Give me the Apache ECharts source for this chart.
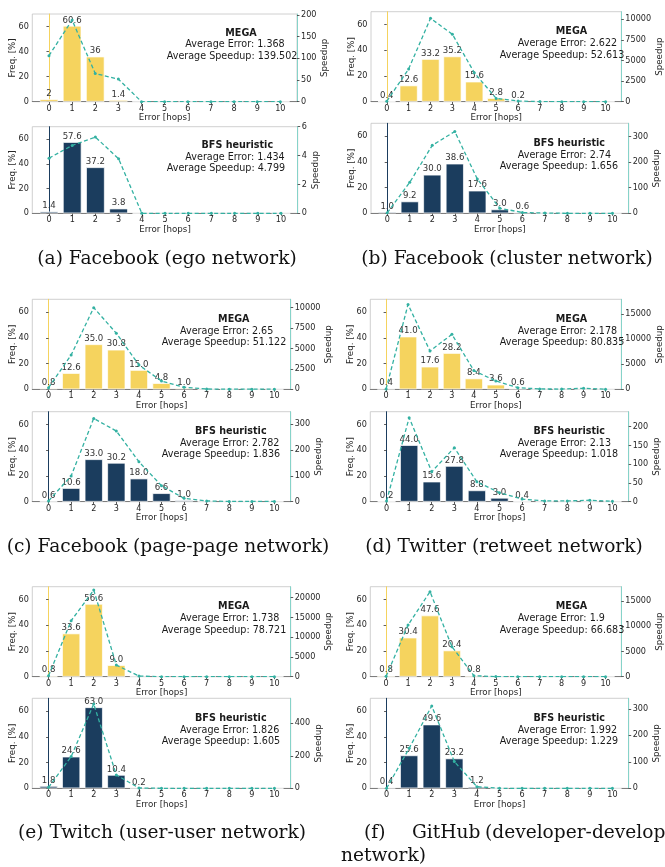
<!DOCTYPE html>
<html><head><meta charset="utf-8">
<script src="https://cdn.jsdelivr.net/npm/echarts@6/dist/echarts.min.js"></script>
<style>html,body{margin:0;padding:0;background:#fff}#c{width:665px;height:867px}</style>
</head><body><div id="c"></div>
<script>
// ---------- data ----------
const hops = [0,1,2,3,4,5,6,7,8,9,10];

const egoMegaFreq   = [2, 60.6, 36, 1.4, 0, 0, 0, 0, 0, 0, 0];
const egoMegaSpeed  = [106, 188, 65, 52, 0, 0, 0, 0, 0, 0, 0];
const egoBfsFreq    = [1.4, 57.6, 37.2, 3.8, 0, 0, 0, 0, 0, 0, 0];
const egoBfsSpeed   = [3.82, 4.7, 5.28, 3.78, 0, 0, 0, 0, 0, 0, 0];

const clusterMegaFreq  = [0.4, 12.6, 33.2, 35.2, 15.6, 2.8, 0.2, 0, 0, 0, 0];
const clusterMegaSpeed = [50, 3970, 10120, 8180, 3520, 400, 80, 10, 5, 5, 5];
const clusterBfsFreq   = [1.0, 9.2, 30.0, 38.6, 17.6, 3.0, 0.6, 0, 0, 0, 0];
const clusterBfsSpeed  = [2, 121, 266, 320, 134, 20, 3, 1, 0, 0, 0];

const pageMegaFreq  = [0.8, 12.6, 35.0, 30.8, 15.0, 4.8, 1.0, 0, 0, 0, 0];
const pageMegaSpeed = [200, 4200, 10000, 6860, 2980, 1020, 245, 40, 10, 10, 10];
const pageBfsFreq   = [0.6, 10.6, 33.0, 30.2, 18.0, 6.6, 1.0, 0, 0, 0, 0];
const pageBfsSpeed  = [3, 100, 323, 274, 155, 62, 13, 3, 1, 1, 1];

const twitterMegaFreq  = [0.4, 41.0, 17.6, 28.2, 8.4, 3.6, 0.6, 0, 0, 0, 0];
const twitterMegaSpeed = [66, 16900, 7630, 10950, 3720, 1660, 330, 66, 50, 200, 30];
const twitterBfsFreq   = [0.2, 44.0, 15.6, 27.8, 8.8, 3.0, 0.4, 0, 0, 0, 0];
const twitterBfsSpeed  = [2, 224, 80, 144, 53, 24, 7, 2, 2, 4, 1];

const twitchMegaFreq  = [0.8, 33.6, 56.6, 9.0, 0, 0, 0, 0, 0, 0, 0];
const twitchMegaSpeed = [250, 14180, 21940, 2950, 170, 0, 0, 0, 0, 0, 0];
const twitchBfsFreq   = [1.8, 24.6, 63.0, 10.4, 0.2, 0, 0, 0, 0, 0, 0];
const twitchBfsSpeed  = [6, 195, 519, 82, 2, 0, 0, 0, 0, 0, 0];

const githubMegaFreq  = [0.8, 30.4, 47.6, 20.4, 0.8, 0, 0, 0, 0, 0, 0];
const githubMegaSpeed = [66, 10240, 16850, 5950, 200, 20, 0, 0, 0, 0, 0];
const githubBfsFreq   = [0.4, 25.6, 49.6, 23.2, 1.2, 0, 0, 0, 0, 0, 0];
const githubBfsSpeed  = [0, 151, 311, 101, 6, 0, 0, 0, 0, 0, 0];

const freqTicks = [0, 20, 40, 60];
const methodNames = ['MEGA', 'BFS heuristic'];
const avgError   = ['1.368','1.434','2.622','2.74','2.65','2.782','2.178','2.13','1.738','1.826','1.9','1.992'];
const avgSpeedup = ['139.502','4.799','52.613','1.656','51.122','1.836','80.835','1.018','78.721','1.605','66.683','1.229'];
const speedTicks = [
  [0,50,100,150,200], [0,2,4,6],
  [0,2500,5000,7500,10000], [0,100,200,300],
  [0,2500,5000,7500,10000], [0,100,200,300],
  [0,5000,10000,15000], [0,50,100,150,200],
  [0,5000,10000,15000,20000], [0,200,400],
  [0,5000,10000,15000], [0,100,200,300]
];
const freqSeries  = [egoMegaFreq, egoBfsFreq, clusterMegaFreq, clusterBfsFreq, pageMegaFreq, pageBfsFreq,
                     twitterMegaFreq, twitterBfsFreq, twitchMegaFreq, twitchBfsFreq, githubMegaFreq, githubBfsFreq];
const speedSeries = [egoMegaSpeed, egoBfsSpeed, clusterMegaSpeed, clusterBfsSpeed, pageMegaSpeed, pageBfsSpeed,
                     twitterMegaSpeed, twitterBfsSpeed, twitchMegaSpeed, twitchBfsSpeed, githubMegaSpeed, githubBfsSpeed];

// ---------- layout ----------
// [left, top, right, bottom, speedMax, rightNameGap, titleCenterX, textLeftErr, textLeftSpd, yTitle, yErr, ySpd]
const L = [
  [32.3, 14,    297,   101.7, 202,   15.5, 241,   185.3, 166.7, 33.7, 44.3, 56.7],
  [32.3, 126.7, 297.7, 213.3, 6.0,   6,    237.3, 185.3, 166.7, 145.7,157.3,168.3],
  [371,  11.7,  628.7, 101.7, 10922, 22.3, 571.5, 517.7, 499.7, 31.7, 43.3, 55],
  [371,  123.3, 628.7, 213.3, 352,   12.3, 569.2, 517.7, 499.7, 143.3,155.7,166.7],
  [32.3, 299.3, 290.7, 389.3, 11020, 22,   233.8, 180,   161.7, 319.3,331.7,342.7],
  [32.3, 411.7, 290.7, 501.7, 349,   12,   230.8, 180,   161.7, 431.7,443.3,454.3],
  [370.3,299.3, 628.7, 389.3, 17920, 24.3, 571.5, 517.7, 499.7, 319.3,331.7,342.7],
  [370.3,411.7, 628.7, 501.7, 240,   12.3, 569.2, 517.7, 499.7, 431.7,443.3,454.3],
  [32.3, 586.7, 290.7, 676.7, 22785, 22,   233.8, 180,   161.7, 606.7,618.7,630],
  [32.3, 698.3, 290.7, 788.3, 554,   13.3, 230.8, 180,   161.7, 718.3,730,741.7],
  [370.3,586.7, 628.7, 676.7, 17841, 22.3, 571.5, 517.7, 499.7, 606.7,618.7,630],
  [370.3,698.3, 628.7, 788.3, 340,   12.3, 569.2, 517.7, 499.7, 718.3,730,741.7]
];
const XMIN = -0.72, XMAX = 10.72;
const YELLOW = '#F5D35E', NAVY = '#1B3D5E', TEAL = '#33B1A2', TEAL_LIGHT = '#86D3C9';
const FONT = 'DejaVu Sans';
const tickColor = '#262626';
const TICK_FS = 8.1;

const grids = [], xAxes = [], yAxes = [], series = [], graphics = [];
L.forEach((g, i) => {
  const [l, t, r, b, spMax, rGap, tcx, exl, sxl, ty, ey, sy] = g;
  const w = r - l, h = b - t;
  const isMega = i % 2 === 0;
  const barColor = isMega ? YELLOW : NAVY;
  grids.push({ left: l, top: t, width: w, height: h, show: true, borderColor: '#c4c4c4', borderWidth: 0.8, backgroundColor: 'transparent' });
  xAxes.push({
    gridIndex: i, type: 'value', min: XMIN, max: XMAX,
    axisLine: { show: true, onZero: false, lineStyle: { color: '#666', width: 0.8 } },
    axisTick: { show: true, length: 2.5, customValues: hops, lineStyle: { color: '#333', width: 0.8 } },
    axisLabel: { customValues: hops, fontSize: TICK_FS, margin: 3, color: tickColor, fontFamily: FONT },
    splitLine: { show: false },
    name: 'Error [hops]', nameLocation: 'middle', nameGap: 10,
    nameTextStyle: { fontSize: 8.7, color: tickColor, fontFamily: FONT }
  });
  yAxes.push({
    gridIndex: i, type: 'value', min: 0, max: 70, position: 'left',
    axisLine: { show: true, lineStyle: { color: barColor, width: 1 } },
    axisTick: { show: true, length: 2.5, customValues: freqTicks, lineStyle: { color: '#333', width: 0.8 } },
    axisLabel: { customValues: freqTicks, fontSize: TICK_FS, margin: 3.5, color: tickColor, fontFamily: FONT },
    splitLine: { show: false },
    name: 'Freq. [%]', nameLocation: 'middle', nameGap: 15, nameRotate: 90, nameMoveOverlap: false,
    nameTextStyle: { fontSize: 8.7, color: tickColor, fontFamily: FONT }
  });
  yAxes.push({
    gridIndex: i, type: 'value', min: 0, max: spMax, position: 'right',
    axisLine: { show: true, lineStyle: { color: TEAL_LIGHT, width: 1 } },
    axisTick: { show: true, length: 2.5, customValues: speedTicks[i], lineStyle: { color: '#333', width: 0.8 } },
    axisLabel: { customValues: speedTicks[i], fontSize: TICK_FS, margin: 4, color: tickColor, fontFamily: FONT, formatter: v => String(v) },
    splitLine: { show: false },
    name: 'Speedup', nameLocation: 'middle', nameGap: rGap, nameRotate: 90,
    nameTextStyle: { fontSize: 8.7, color: tickColor, fontFamily: FONT }
  });
  const freq = freqSeries[i], sp = speedSeries[i];
  const plain = i < 2;
  series.push({
    type: 'bar', xAxisIndex: i, yAxisIndex: 2 * i,
    data: hops.map((hh, k) => [hh, freq[k]]),
    barWidth: w * 0.8 / (XMAX - XMIN),
    itemStyle: { color: barColor, borderColor: '#ffffff', borderWidth: 0.7 },
    label: {
      show: true, position: 'top', distance: 1, fontSize: 8.6, color: '#333', fontFamily: FONT,
      formatter: p => p.value[1] === 0 ? '' : (plain ? String(p.value[1]) : p.value[1].toFixed(1))
    },
    z: 2, animation: false
  });
  series.push({
    type: 'line', xAxisIndex: i, yAxisIndex: 2 * i + 1,
    data: hops.map((hh, k) => [hh, sp[k]]),
    lineStyle: { color: TEAL, width: 1.3, type: [4, 2.5] },
    symbol: 'circle', symbolSize: 3, showSymbol: true,
    itemStyle: { color: TEAL },
    z: 3, animation: false
  });
  const txt = (text, x, y, align, bold) => graphics.push({
    type: 'text', x: x, y: y, z: 100,
    style: { text: text, textAlign: align, textVerticalAlign: 'middle', fill: '#1a1a1a',
             font: (bold ? 'bold ' : '') + '9.6px "DejaVu Sans"' }
  });
  txt(methodNames[isMega ? 0 : 1], tcx, ty, 'center', true);
  txt('Average Error: ' + avgError[i], exl, ey, 'left', false);
  txt('Average Speedup: ' + avgSpeedup[i], sxl, sy, 'left', false);
});

// captions
const capFont = '18.6px "DejaVu Serif"';
const cap = (text, x, y, align) => graphics.push({
  type: 'text', x: x, y: y, z: 100,
  style: { text: text, textAlign: align, textVerticalAlign: 'middle', fill: '#111', font: capFont }
});
cap('(a) Facebook (ego network)', 167, 259, 'center');
cap('(b) Facebook (cluster network)', 507, 259, 'center');
cap('(c) Facebook (page-page network)', 168, 547, 'center');
cap('(d) Twitter (retweet network)', 504, 547, 'center');
cap('(e) Twitch (user-user network)', 162, 833, 'center');
cap('(f)', 364, 833, 'left');
cap('GitHub', 412, 833, 'left');
cap('(developer-developer', 485, 833, 'left');
cap('network)', 341, 856, 'left');

const chart = echarts.init(document.getElementById('c'), null, { renderer: 'canvas' });
chart.setOption({
  backgroundColor: '#ffffff',
  animation: false,
  textStyle: { fontFamily: FONT },
  grid: grids, xAxis: xAxes, yAxis: yAxes, series: series, graphic: graphics
});
</script></body></html>
